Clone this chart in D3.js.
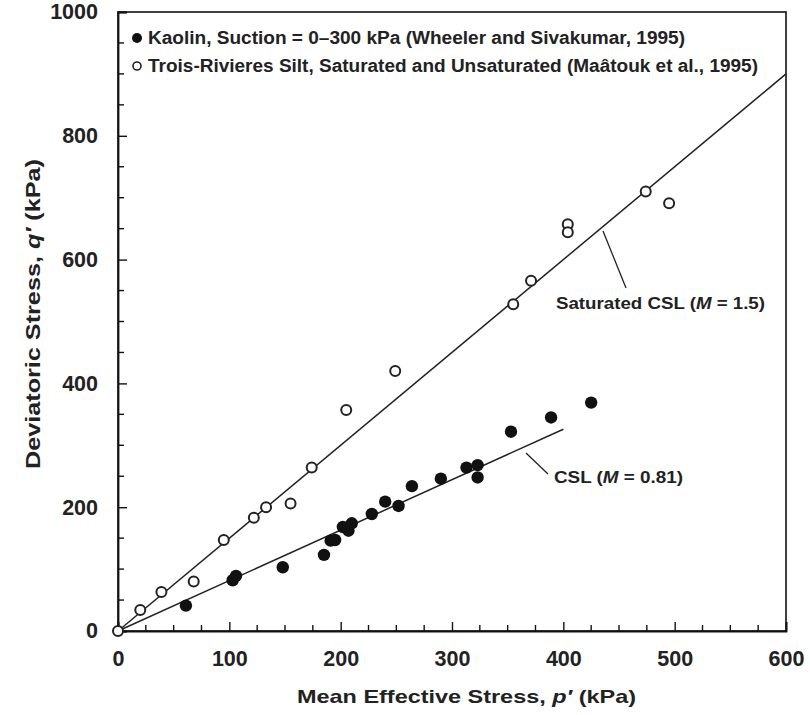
<!DOCTYPE html>
<html>
<head>
<meta charset="utf-8">
<script src="https://cdn.jsdelivr.net/npm/d3@7"></script>
<style>
  body { margin: 0; background: #fff; }
  svg { font-family: "Liberation Sans", Arial, sans-serif; }
</style>
</head>
<body>
<svg id="chart" width="810" height="715"></svg>
<script>
// Kaolin (Wheeler and Sivakumar, 1995) - filled
const kaolinP = [61, 103, 106, 148, 185, 191, 195, 202, 207, 210, 228, 240, 252, 264, 290, 313, 323, 323, 353, 389, 425];
const kaolinQ = [41, 82, 89, 103, 123, 146, 147, 168, 162, 174, 189, 209, 202, 234, 246, 264, 268, 248, 322, 345, 369];

// Trois-Rivieres silt (Maatouk et al., 1995) - open
const siltP = [0, 20, 39, 68, 95, 122, 133, 155, 174, 205, 249, 355, 371, 404, 404, 474, 495];
const siltQ = [0, 34, 63, 80, 147, 183, 200, 206, 264, 357, 420, 528, 566, 657, 644, 710, 691];

// critical state lines
const cslSatP = [0, 600];
const cslSatQ = [0, 900];
const cslKaoP = [0, 400];
const cslKaoQ = [0, 326];

const xTicks = [0, 100, 200, 300, 400, 500, 600];
const yTicks = [0, 200, 400, 600, 800, 1000];

const margin = { top: 12, right: 24, bottom: 84, left: 118 };
const W = 810, H = 715;
const iw = W - margin.left - margin.right;
const ih = H - margin.top - margin.bottom;

const svg = d3.select('#chart');
const g = svg.append('g').attr('transform', `translate(${margin.left},${margin.top})`);

const x = d3.scaleLinear().domain([0, 600]).range([0, iw]);
const y = d3.scaleLinear().domain([0, 1000]).range([ih, 0]);

// frame
g.append('rect')
    .attr('width', iw).attr('height', ih)
    .attr('fill', 'none').attr('stroke', '#111').attr('stroke-width', 1.6);

// minor ticks
const xMinor = d3.range(0, 601, 25).filter(d => d % 100 !== 0);
const yMinor = d3.range(0, 1001, 50).filter(d => d % 200 !== 0);

let xAxis = g.append('g').attr('transform', `translate(0,${ih})`)
    .call(d3.axisBottom(x).tickValues(xTicks).tickFormat(d3.format('d')).tickSize(-9).tickPadding(20));
xAxis.append('g').selectAll('line').data(xMinor).join('line')
    .attr('x1', d => x(d)).attr('x2', d => x(d)).attr('y1', 0).attr('y2', -6)
    .attr('stroke', '#111').attr('stroke-width', 1.4);

let yAxis = g.append('g')
    .call(d3.axisLeft(y).tickValues(yTicks).tickFormat(d3.format('d')).tickSize(-9).tickPadding(20));
yAxis.append('g').selectAll('line').data(yMinor).join('line')
    .attr('x1', 0).attr('x2', 6).attr('y1', d => y(d)).attr('y2', d => y(d))
    .attr('stroke', '#111').attr('stroke-width', 1.4);

[xAxis, yAxis].forEach(a => {
    a.select('.domain').attr('stroke', '#111').attr('stroke-width', 1.8);
    a.selectAll('.tick line').attr('stroke', '#111').attr('stroke-width', 1.4);
    a.selectAll('.tick text')
        .attr('font-size', 21.5).attr('font-weight', 'bold').attr('fill', '#222')
        .attr('font-family', '"Liberation Sans", Arial, sans-serif');
});

// CSL lines
const line = d3.line().x(d => x(d[0])).y(d => y(d[1]));
g.append('path').datum(d3.zip(cslSatP, cslSatQ))
    .attr('d', line).attr('fill', 'none').attr('stroke', '#222').attr('stroke-width', 1.5);
g.append('path').datum(d3.zip(cslKaoP, cslKaoQ))
    .attr('d', line).attr('fill', 'none').attr('stroke', '#222').attr('stroke-width', 1.5);

// points
g.append('g').selectAll('circle').data(d3.zip(siltP, siltQ)).join('circle')
    .attr('cx', d => x(d[0])).attr('cy', d => y(d[1])).attr('r', 5)
    .attr('fill', '#fff').attr('stroke', '#222').attr('stroke-width', 2);

g.append('g').selectAll('circle').data(d3.zip(kaolinP, kaolinQ)).join('circle')
    .attr('cx', d => x(d[0])).attr('cy', d => y(d[1])).attr('r', 6.2)
    .attr('fill', '#111');

// annotations
svg.append('line').attr('x1', 603).attr('y1', 231).attr('x2', 626).attr('y2', 288)
    .attr('stroke', '#222').attr('stroke-width', 1.3);
let t1 = svg.append('text').attr('x', 556).attr('y', 309)
    .attr('font-size', 17).attr('font-weight', 'bold').attr('fill', '#222')
    .attr('textLength', 209).attr('lengthAdjust', 'spacingAndGlyphs');
t1.append('tspan').text('Saturated CSL (');
t1.append('tspan').attr('font-style', 'italic').text('M');
t1.append('tspan').text(' = 1.5)');

svg.append('line').attr('x1', 526).attr('y1', 453).attr('x2', 548).attr('y2', 474)
    .attr('stroke', '#222').attr('stroke-width', 1.3);
let t2 = svg.append('text').attr('x', 554).attr('y', 483)
    .attr('font-size', 17).attr('font-weight', 'bold').attr('fill', '#222')
    .attr('textLength', 129).attr('lengthAdjust', 'spacingAndGlyphs');
t2.append('tspan').text('CSL (');
t2.append('tspan').attr('font-style', 'italic').text('M');
t2.append('tspan').text(' = 0.81)');

// legend
const legend = svg.append('g');
legend.append('circle').attr('cx', 137).attr('cy', 38).attr('r', 5).attr('fill', '#111');
legend.append('text').attr('x', 148).attr('y', 44)
    .attr('font-size', 17.5).attr('font-weight', 'bold').attr('fill', '#222')
    .attr('textLength', 537).attr('lengthAdjust', 'spacingAndGlyphs')
    .text('Kaolin, Suction = 0\u2013300 kPa (Wheeler and Sivakumar, 1995)');
legend.append('circle').attr('cx', 137).attr('cy', 66).attr('r', 4)
    .attr('fill', 'none').attr('stroke', '#222').attr('stroke-width', 1.6);
legend.append('text').attr('x', 148).attr('y', 72)
    .attr('font-size', 17.5).attr('font-weight', 'bold').attr('fill', '#222')
    .attr('textLength', 610).attr('lengthAdjust', 'spacingAndGlyphs')
    .text('Trois-Rivieres Silt, Saturated and Unsaturated (Ma\u00e2touk et al., 1995)');

// axis titles
let xt = svg.append('text').attr('x', 297).attr('y', 703)
    .attr('font-size', 19).attr('font-weight', 'bold').attr('fill', '#222')
    .attr('textLength', 339).attr('lengthAdjust', 'spacingAndGlyphs');
xt.append('tspan').text('Mean Effective Stress, ');
xt.append('tspan').attr('font-style', 'italic').text('p\u2032');
xt.append('tspan').text(' (kPa)');

let yt = svg.append('text').attr('transform', 'translate(40,469) rotate(-90)')
    .attr('font-size', 20).attr('font-weight', 'bold').attr('fill', '#222')
    .attr('textLength', 310).attr('lengthAdjust', 'spacingAndGlyphs');
yt.append('tspan').text('Deviatoric Stress, ');
yt.append('tspan').attr('font-style', 'italic').text('q\u2032');
yt.append('tspan').text(' (kPa)');
</script>
</body>
</html>
